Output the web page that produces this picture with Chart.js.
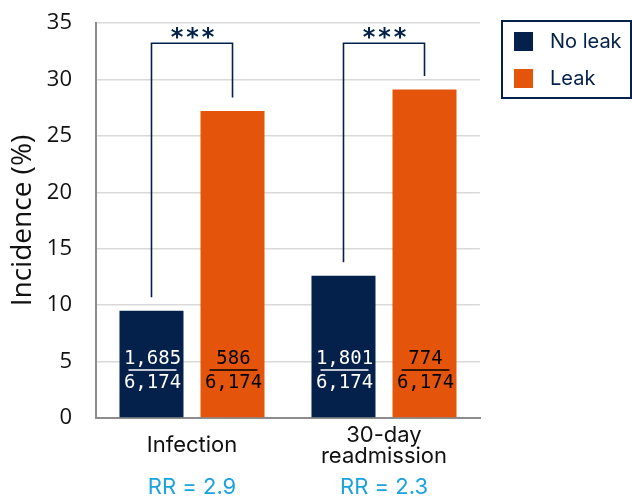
<!DOCTYPE html>
<html>
<head>
<meta charset="utf-8">
<script src="https://cdn.jsdelivr.net/npm/chart.js@4.4.1/dist/chart.umd.min.js"></script>
<style>
  html, body { margin: 0; padding: 0; background: #fff; }
  #wrap { width: 632px; height: 497px; position: relative; }
</style>
</head>
<body>
<div id="wrap"><canvas id="c"></canvas></div>
<script>
// data
const categories = [["Infection"], ["30-day", "readmission"]];
const noLeak = [9.5, 12.6];
const leak = [27.2, 29.1];
const noLeakCounts = ["1,685", "1,801"];
const leakCounts = ["586", "774"];
const denominators = ["6,174", "6,174"];
const relRisk = ["RR = 2.9", "RR = 2.3"];
const yTicks = [0, 5, 10, 15, 20, 25, 30, 35];
const bracketTop = 33.2;
const signif = ["***", "***"];

const NAVY = "#03214a";
const ORANGE = "#e4540a";
const BLUE = "#1ba3dd";
const FONT = "Inter, 'Open Sans', sans-serif";
const AXFONT = "'Open Sans', sans-serif";

// ─── annotation plugin: brackets, fractions, RR, legend ───
const annotations = {
    id: "annotations",
    afterDatasetsDraw(chart) {
        const ctx = chart.ctx;
        const x = chart.scales.x, y = chart.scales.y;
        const m0 = chart.getDatasetMeta(0).data;
        const m1 = chart.getDatasetMeta(1).data;
        const base = y.getPixelForValue(0);
        ctx.save();

        // significance brackets
        categories.forEach((c, i) => {
            const xl = m0[i].x, xr = m1[i].x;
            const yt = y.getPixelForValue(bracketTop);
            ctx.strokeStyle = NAVY;
            ctx.lineWidth = 1.6;
            ctx.beginPath();
            ctx.moveTo(xl, y.getPixelForValue(noLeak[i] + 1.2));
            ctx.lineTo(xl, yt);
            ctx.lineTo(xr, yt);
            ctx.lineTo(xr, y.getPixelForValue(leak[i] + 1.2));
            ctx.stroke();
            ctx.fillStyle = NAVY;
            ctx.font = "bold 24px 'DejaVu Sans', sans-serif";
            ctx.textAlign = "center";
            ctx.textBaseline = "alphabetic";
            ctx.letterSpacing = "3px";
            ctx.fillText(signif[i], (xl + xr) / 2 + 2, yt + 2);
            ctx.letterSpacing = "0px";
        });

        // fractions inside bars
        const drawFrac = (bx, num, den, col) => {
            ctx.fillStyle = col;
            ctx.strokeStyle = col;
            ctx.font = "19px 'DejaVu Sans Mono', monospace";
            ctx.textAlign = "center";
            ctx.textBaseline = "middle";
            ctx.fillText(num, bx + 1, base - 59);
            ctx.fillText(den, bx + 1, base - 35);
            ctx.lineWidth = 1.6;
            ctx.beginPath();
            ctx.moveTo(bx - 23, base - 48);
            ctx.lineTo(bx + 25, base - 48);
            ctx.stroke();
        };
        categories.forEach((c, i) => {
            drawFrac(m0[i].x, noLeakCounts[i], denominators[i], "#ffffff");
            drawFrac(m1[i].x, leakCounts[i], denominators[i], "#000000");
        });

        // relative risk under category labels
        ctx.fillStyle = BLUE;
        ctx.font = "22px " + FONT;
        ctx.textAlign = "center";
        ctx.textBaseline = "middle";
        categories.forEach((c, i) => {
            ctx.fillText(relRisk[i], x.getPixelForValue(i), 487);
        });

        // legend box
        const lx = 502, ly = 21;
        ctx.strokeStyle = NAVY;
        ctx.lineWidth = 2;
        ctx.strokeRect(lx, ly, 129, 77);
        chart.data.datasets.forEach((ds, k) => {
            ctx.fillStyle = ds.backgroundColor;
            ctx.fillRect(lx + 12, ly + 11 + k * 37, 19, 19);
            ctx.fillStyle = NAVY;
            ctx.font = "20px " + FONT;
            ctx.textAlign = "left";
            ctx.textBaseline = "middle";
            ctx.fillText(ds.label, lx + 48, ly + 21 + k * 37);
        });
        ctx.restore();
    },
};

new Chart(document.getElementById("c"), {
    type: "bar",
    data: {
        labels: categories,
        datasets: [
            { label: "No leak", data: noLeak, backgroundColor: NAVY },
            { label: "Leak", data: leak, backgroundColor: ORANGE },
        ],
    },
    options: {
        responsive: true, maintainAspectRatio: false, animation: false,
        categoryPercentage: 0.844, barPercentage: 0.79,
        layout: { padding: { top: 23, right: 152, left: 0, bottom: 0 } },
        plugins: { legend: { display: false }, tooltip: { enabled: false } },
        scales: {
            x: {
                grid: { display: false, drawTicks: false },
                border: { display: true, color: "#8c8c8c", width: 2 },
                ticks: {
                    color: "#111", font: { size: 22, family: FONT, lineHeight: "21px" },
                    padding: 17, crossAlign: "center",
                },
                afterFit: (s) => { s.height = 79; },
            },
            y: {
                min: 0, max: 35,
                afterBuildTicks: (s) => { s.ticks = yTicks.map((v) => ({ value: v })); },
                grid: {
                    color: "#d9d9d9", lineWidth: 1.5,
                    drawTicks: true, tickLength: 24, tickColor: "rgba(0,0,0,0)",
                },
                border: { display: true, color: "#8c8c8c", width: 2 },
                ticks: { color: "#111", font: { size: 22, family: AXFONT }, padding: 0 },
                title: {
                    display: true, text: "Incidence (%)", color: "#111",
                    font: { size: 28, family: AXFONT }, padding: { top: 6, bottom: 0 },
                },
                afterFit: (s) => { s.width = 96; },
            },
        },
    },
    plugins: [annotations],
});
</script>
</body>
</html>
